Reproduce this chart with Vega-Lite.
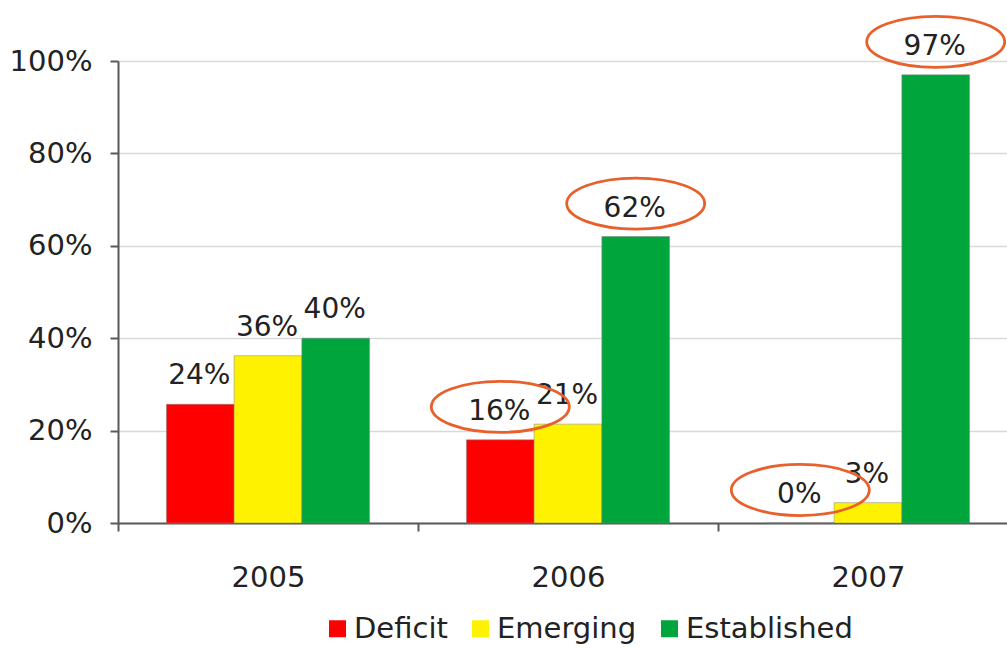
{
  "$schema": "https://vega.github.io/schema/vega-lite/v6.json",
  "autosize": {"type": "none"},
  "padding": {"left": 118, "top": 61, "right": -11, "bottom": 126},
  "width": {"step": 300, "for": "position"},
  "height": 462,
  "background": "white",
  "config": {"view": {"stroke": null}, "font": "DejaVu Sans"},
  "data": {
    "values": [
      {"year": "2005", "category": "Deficit", "value": 25.7, "label": "24%", "highlight": false},
      {"year": "2005", "category": "Emerging", "value": 36.2, "label": "36%", "highlight": false},
      {"year": "2005", "category": "Established", "value": 40, "label": "40%", "highlight": false},
      {"year": "2006", "category": "Deficit", "value": 18, "label": "16%", "highlight": true},
      {"year": "2006", "category": "Emerging", "value": 21.4, "label": "21%", "highlight": false},
      {"year": "2006", "category": "Established", "value": 62, "label": "62%", "highlight": true},
      {"year": "2007", "category": "Deficit", "value": 0, "label": "0%", "highlight": true},
      {"year": "2007", "category": "Emerging", "value": 4.4, "label": "3%", "highlight": false},
      {"year": "2007", "category": "Established", "value": 97, "label": "97%", "highlight": true}
    ]
  },
  "encoding": {
    "x": {
      "field": "year", "type": "nominal",
      "scale": {"paddingInner": 0, "paddingOuter": 0},
      "axis": {
        "title": null, "labelAngle": 0, "tickBand": "extent", "tickSize": 8,
        "tickColor": "#595959", "tickWidth": 2, "domainColor": "#595959", "domainWidth": 2,
        "labelFontSize": 29, "labelColor": "#222222", "labelPadding": 32, "grid": false
      }
    },
    "xOffset": {
      "field": "category", "type": "nominal",
      "sort": ["Deficit", "Emerging", "Established"],
      "scale": {"paddingInner": 0, "paddingOuter": 0.716}
    },
    "y": {
      "field": "value", "type": "quantitative",
      "scale": {"domain": [0, 100], "nice": false},
      "axis": {
        "title": null, "values": [0, 20, 40, 60, 80, 100], "labelExpr": "datum.value + '%'",
        "grid": true, "gridColor": "#d9d9d9", "gridWidth": 1.5,
        "tickSize": 8, "tickColor": "#595959", "tickWidth": 2,
        "domainColor": "#595959", "domainWidth": 2,
        "labelFontSize": 29, "labelPadding": 18, "labelColor": "#222222"
      }
    }
  },
  "layer": [
    {
      "mark": {"type": "bar", "stroke": "#7f7f7f", "strokeWidth": 1, "strokeOpacity": 0.5},
      "encoding": {
        "color": {
          "field": "category", "type": "nominal",
          "scale": {"domain": ["Deficit", "Emerging", "Established"], "range": ["#FF0000", "#FFF200", "#00A63C"]},
          "legend": {
            "orient": "none", "legendX": 205, "legendY": 553, "direction": "horizontal",
            "title": null, "symbolType": "square", "symbolSize": 289,
            "labelFontSize": 29, "labelColor": "#222222", "columnPadding": 18,
            "labelOffset": 2, "labelLimit": 400, "symbolStrokeWidth": 0, "symbolOpacity": 1
          }
        }
      }
    },
    {
      "mark": {"type": "text", "dy": -28, "dx": -1, "fontSize": 28, "color": "#222222", "baseline": "middle"},
      "encoding": {"text": {"field": "label"}}
    },
    {
      "transform": [{"filter": "datum.highlight"}],
      "mark": {
        "type": "point",
        "shape": "M -1 0 C -1 -0.2044 -0.5523 -0.37 0 -0.37 C 0.5523 -0.37 1 -0.2044 1 0 C 1 0.2044 0.5523 0.37 0 0.37 C -0.5523 0.37 -1 0.2044 -1 0 Z",
        "filled": false, "stroke": "#E8602C", "strokeWidth": 2.8, "size": 19044, "opacity": 1
      },
      "encoding": {"yOffset": {"value": -33}, "xOffset": {"field": "category", "type": "nominal", "sort": ["Deficit", "Emerging", "Established"]}}
    }
  ]
}
